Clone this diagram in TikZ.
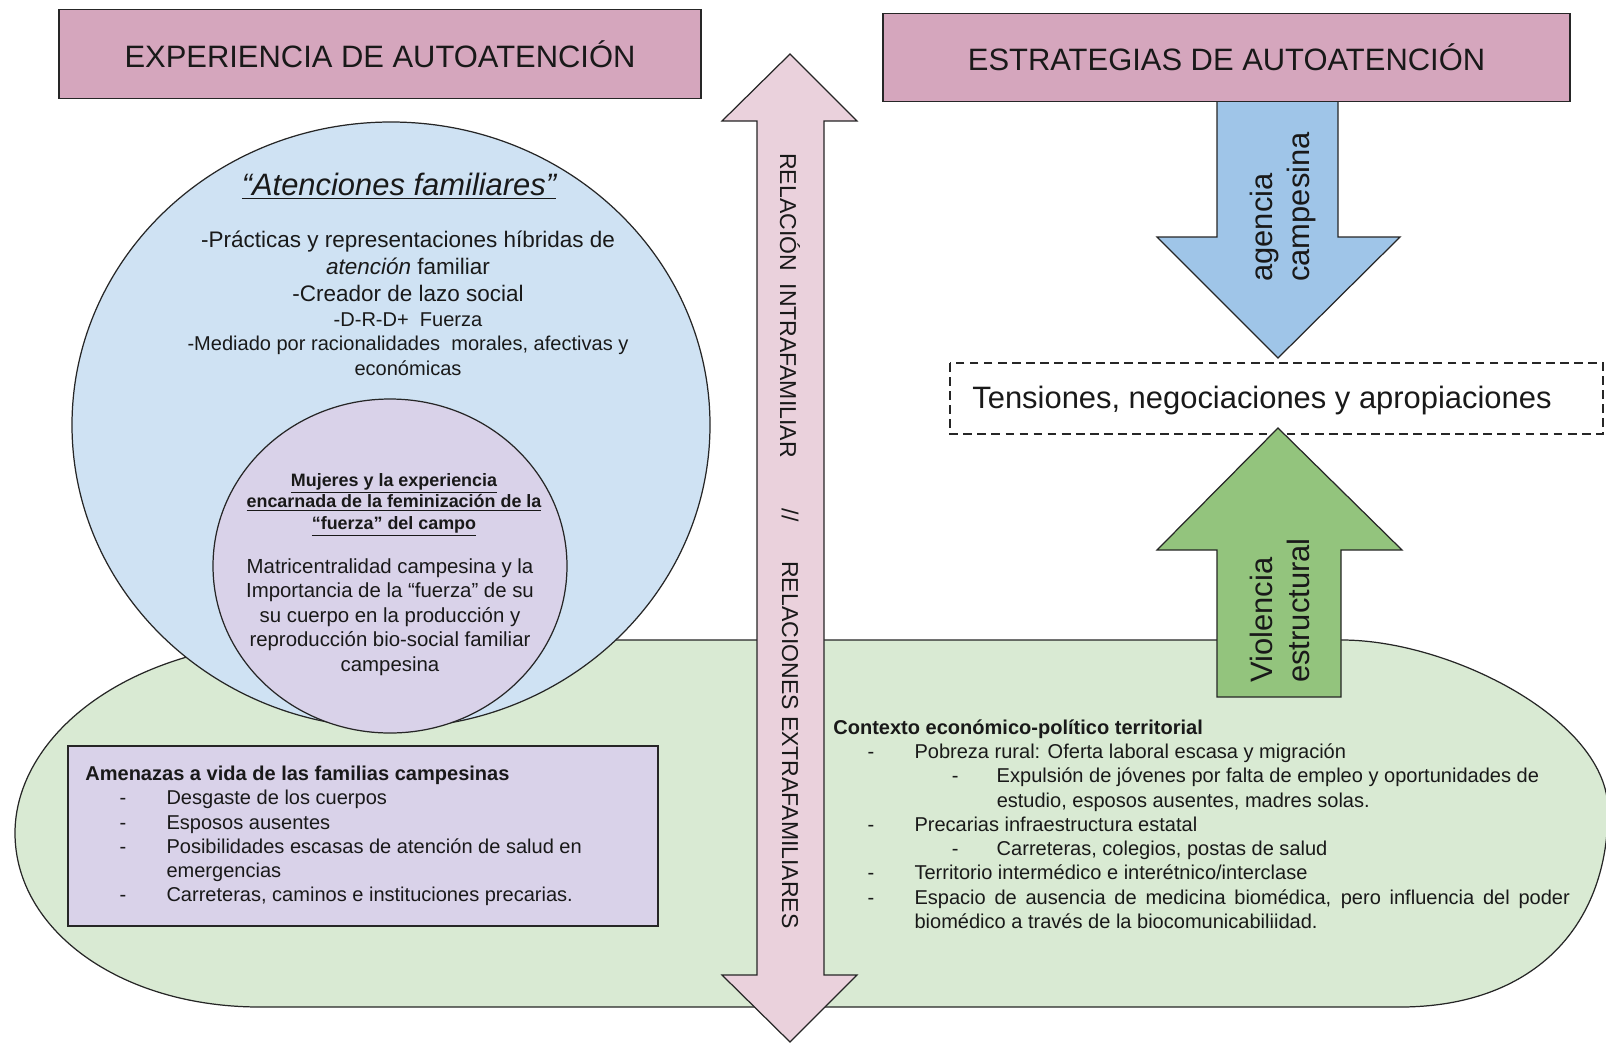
\documentclass[tikz,border=0pt]{standalone}
\usepackage{fontspec}
\setmainfont{Liberation Sans}
\usetikzlibrary{positioning}
\definecolor{titlepink}{HTML}{D5A6BD}
\definecolor{arrowpink}{HTML}{EAD1DC}
\definecolor{famblue}{HTML}{CFE2F3}
\definecolor{lavender}{HTML}{D9D2E9}
\definecolor{fieldgreen}{HTML}{D9EAD3}
\definecolor{agencyblue}{HTML}{9FC5E8}
\definecolor{violgreen}{HTML}{93C47D}
\newcommand{\szBig}{\fontsize{17.6}{21.5}\selectfont}
\newcommand{\szMid}{\fontsize{12.8}{15.4}\selectfont}
\newcommand{\szSmall}{\fontsize{11.4}{13.8}\selectfont}
\newcommand{\szBold}{\fontsize{10.2}{12.3}\selectfont}
\newcommand{\szBody}{\fontsize{11.6}{14}\selectfont}
\newcommand{\szRel}{\fontsize{13.1}{15.5}\selectfont}
\newcommand{\dashA}{\hspace*{19.5pt}\makebox[26.7pt][l]{-}}
\newcommand{\dashB}{\hspace*{67.5pt}\makebox[25.5pt][l]{-}}
\tikzset{outline/.style={draw=black!85, line width=0.7pt}}
\tikzset{titlebox/.style={outline, fill=titlepink, font=\szBig, text=black!90, minimum height=1.77cm}}
\tikzset{txt/.style={inner sep=0pt, text=black!90}}
\tikzset{vlabel/.style={txt, rotate=90, anchor=west, align=left, font=\szBig}}

\begin{document}
\begin{tikzpicture}[x=0.02cm, y=-0.02cm]
\useasboundingbox (0,0) rectangle (1606,1042);

% contexto territorial
\draw[outline, fill=fieldgreen] (15,833) .. controls (15,740) and (120,645) .. (300,640)
  -- (1342,640) .. controls (1450,640) and (1608,720) .. (1608,810)
  .. controls (1608,930) and (1530,1007) .. (1400,1007)
  -- (260,1007) .. controls (120,1007) and (15,930) .. (15,833) -- cycle;

\draw[outline, fill=arrowpink] (790,54) -- (857,121) -- (824,121) -- (824,975) -- (857,975)
  -- (790,1042) -- (722,975) -- (757,975) -- (757,121) -- (722,121) -- cycle;

\draw[outline, fill=famblue] (391,425) ellipse [x radius=319, y radius=303];
\draw[outline, fill=lavender] (390,566) ellipse [x radius=177, y radius=167];

\node[outline, fill=lavender, minimum width=11.8cm, minimum height=3.6cm] (amenBox) at (363,836) {};
\draw[outline, dash pattern=on 5pt off 3pt] (950,363) rectangle (1603,434);

\draw[outline, fill=agencyblue] (1217,101) -- (1338,101) -- (1338,237) -- (1400,237)
  -- (1278,358) -- (1157,237) -- (1217,237) -- cycle;
\draw[outline, fill=violgreen] (1278,428) -- (1402,550) -- (1341,550) -- (1341,697)
  -- (1217,697) -- (1217,550) -- (1157,550) -- cycle;

\node[titlebox, minimum width=12.84cm] (expTitle) at (380,54) {EXPERIENCIA DE AUTOATENCIÓN};
\node[titlebox, minimum width=13.74cm] (estTitle) at (1226.5,57.5) {ESTRATEGIAS DE AUTOATENCIÓN};

\node[txt, font=\szRel, rotate=-90, anchor=east] (relIntra) at (790,458) {RELACIÓN\ \ INTRAFAMILIAR};
\node[txt, font=\szRel, rotate=-90] (relSep) at (790,515) {//};
\node[txt, font=\szRel, rotate=-90, anchor=west] (relExtra) at (790,561) {RELACIONES EXTRAFAMILIARES};

\node[vlabel] (agencyLbl) at (1283,282) {agencia\\campesina};
\node[vlabel] (violLbl) at (1280,683) {Violencia\\estructural};
\node[txt, font=\szBig] (tension) at (1262,400) {Tensiones, negociaciones y apropiaciones};

% atenciones familiares
\node[txt, font=\szBig\itshape] (famTitle) at (399,186) {\underline{“Atenciones familiares”}};
\node[txt, font=\szMid, align=center] (famList) at (408,266)
  {-Prácticas y representaciones híbridas de\\\textit{atención} familiar\\-Creador de lazo social};
\node[txt, font=\szSmall, align=center] (famList2) at (408,344)
  {-D-R-D+\ \ Fuerza\\-Mediado por racionalidades\ \ morales, afectivas y\\económicas};

\node[txt, font=\szBold\bfseries, align=center] (womenTitle) at (394,505)
  {\underline{Mujeres y la experiencia}\\\underline{encarnada de la feminización de la}\\\underline{“fuerza” del campo}};
\node[txt, font=\szBody, align=center] (womenText) at (390,617)
  {Matricentralidad campesina y la\\Importancia de la “fuerza” de su\\su cuerpo en la producción y\\reproducción bio-social familiar\\campesina};

\node[txt, font=\szSmall, align=left, anchor=west] (amenText) at (85,836)
  {\textbf{Amenazas a vida de las familias campesinas}\\
   \dashA Desgaste de los cuerpos\\
   \dashA Esposos ausentes\\
   \dashA Posibilidades escasas de atención de salud en\\
   \hspace*{46.2pt}emergencias\\
   \dashA Carreteras, caminos e instituciones precarias.};

\node[txt, font=\szSmall, align=left, anchor=west] (ctxText) at (833,824)
  {\textbf{Contexto económico-político territorial}\\
   \dashA Pobreza rural: Oferta laboral escasa y migración\\
   \dashB Expulsión de jóvenes por falta de empleo y oportunidades de\\
   \hspace*{93pt}estudio, esposos ausentes, madres solas.\\
   \dashA Precarias infraestructura estatal\\
   \dashB Carreteras, colegios, postas de salud\\
   \dashA Territorio intermédico e interétnico/interclase\\
   \dashA \makebox[373pt][s]{Espacio de ausencia de medicina biomédica, pero influencia del poder}\\
   \hspace*{46.2pt}biomédico a través de la biocomunicabiliidad.};
\end{tikzpicture}
\end{document}
